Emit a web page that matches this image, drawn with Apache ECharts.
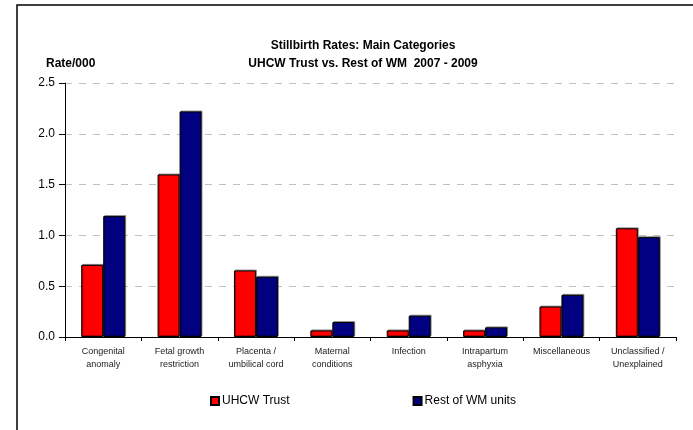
<!DOCTYPE html>
<html><head><meta charset="utf-8">
<script src="https://cdn.jsdelivr.net/npm/echarts@6/dist/echarts.min.js"></script>
<style>html,body{margin:0;padding:0;background:#fff}#c{width:693px;height:430px}</style>
</head><body><div id="c"></div>
<script>
const categories = ['Congenital\nanomaly','Fetal growth\nrestriction','Placenta /\numbilical cord','Maternal\nconditions','Infection','Intrapartum\nasphyxia','Miscellaneous','Unclassified /\nUnexplained'];
const uhcw = [0.71, 1.60, 0.655, 0.065, 0.065, 0.065, 0.30, 1.07];
const restWM = [1.19, 2.22, 0.593, 0.147, 0.21, 0.095, 0.415, 0.983];
const seriesNames = ['UHCW Trust', 'Rest of WM units'];

const chart = echarts.init(document.getElementById('c'), null, {renderer: 'canvas'});
const barStyle = (c) => ({color: c, borderColor: '#000', borderWidth: 1, shadowColor: 'rgba(0,0,0,0.35)', shadowOffsetX: 1, shadowOffsetY: -1, shadowBlur: 0});
chart.setOption({
  animation: false,
  textStyle: {fontFamily: 'Liberation Sans, Arial, sans-serif'},
  graphic: [{type: 'rect', shape: {x: 17, y: 5, width: 720, height: 480}, style: {fill: 'none', stroke: '#000', lineWidth: 1.5}, z: 100}],
  title: [
    {text: 'Stillbirth Rates: Main Categories\nUHCW Trust vs. Rest of WM  2007 - 2009', left: 358, textAlign: 'center', top: 32,
     textStyle: {fontSize: 12, fontWeight: 'bold', color: '#000', lineHeight: 18, fontFamily: 'Liberation Sans, Arial, sans-serif'}},
    {text: 'Rate/000', left: 41, top: 53, textStyle: {fontSize: 12, fontWeight: 'bold', color: '#000', fontFamily: 'Liberation Sans, Arial, sans-serif'}}
  ],
  legend: {left: 205, top: 390, itemWidth: 8, itemHeight: 8, itemGap: 123,
    textStyle: {fontSize: 12, color: '#000', padding: [0, 0, 0, -2]},
    data: seriesNames.map(n => ({name: n, icon: 'rect'}))},
  grid: {left: 65, right: 17, top: 83, bottom: 93, containLabel: false},
  xAxis: {type: 'category', data: categories, boundaryGap: true,
    axisLine: {lineStyle: {color: '#000', width: 1}},
    axisTick: {show: true, length: 4, lineStyle: {color: '#000'}},
    axisLabel: {fontSize: 9, color: '#222', lineHeight: 13, margin: 8, interval: 0}},
  yAxis: {type: 'value', min: 0, max: 2.5, interval: 0.5,
    axisLine: {show: true, lineStyle: {color: '#000', width: 1}},
    axisTick: {show: true, length: 6, lineStyle: {color: '#000'}},
    axisLabel: {fontSize: 12, color: '#000', margin: 10, formatter: v => v.toFixed(1)},
    splitLine: {show: true, lineStyle: {color: '#c0c0c0', type: [7, 7], width: 1}}},
  series: [
    {name: seriesNames[0], type: 'bar', data: uhcw, barWidth: 22, barGap: '0%', itemStyle: barStyle('#ff0000')},
    {name: seriesNames[1], type: 'bar', data: restWM, barWidth: 22, barGap: '0%', itemStyle: barStyle('#000080')}
  ]
});
</script></body></html>
